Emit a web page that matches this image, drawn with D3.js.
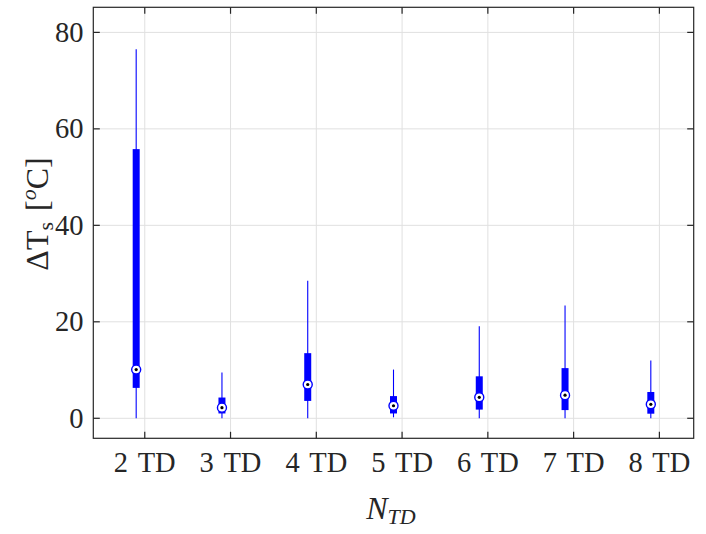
<!DOCTYPE html>
<html>
<head>
<meta charset="utf-8">
<script src="https://cdn.jsdelivr.net/npm/d3@7"></script>
<style>
  html, body { margin: 0; padding: 0; background: #fff; }
  svg { display: block; }
  text { font-family: "Liberation Serif", "DejaVu Serif", serif; fill: #262626; }
</style>
</head>
<body>
<svg id="chart" width="706" height="534"></svg>
<script>
// Temperature-spread box summaries per number of TDs
const categories = ["2 TD", "3 TD", "4 TD", "5 TD", "6 TD", "7 TD", "8 TD"];
const whiskerLow  = [0.0, 0.0, 0.0, 0.2, 0.0, 0.0, 0.0];
const boxLow      = [6.3, 1.0, 3.6, 1.0, 1.8, 1.7, 0.95];
const medians     = [10.1, 2.2, 7.0, 2.6, 4.35, 4.8, 2.9];
const boxHigh     = [55.8, 4.3, 13.5, 4.6, 8.7, 10.4, 5.45];
const whiskerHigh = [76.5, 9.5, 28.5, 10.1, 19.1, 23.4, 12.0];
const yTicks = [0, 20, 40, 60, 80];

const svg = d3.select("#chart");
const plotL = 93.3, plotR = 693.7, plotT = 7.3, plotB = 438.3;

const x = d3.scaleLinear().domain([0.4, 7.4]).range([plotL, plotR]);
const y = d3.scaleLinear().domain([-4.15, 85.2]).range([plotB, plotT]);
const xTicks = categories.map((_, i) => i + 1);
const boxOffset = -0.1;   // boxes sit slightly left of their tick
const axisColor = "#262626";

// grid
const grid = svg.append("g");
grid.selectAll("line.gx").data(xTicks).join("line")
  .attr("x1", d => x(d)).attr("x2", d => x(d))
  .attr("y1", plotT).attr("y2", plotB)
  .attr("stroke", "#e0e0e0").attr("stroke-width", 1);
grid.selectAll("line.gy").data(yTicks).join("line")
  .attr("x1", plotL).attr("x2", plotR)
  .attr("y1", d => y(d)).attr("y2", d => y(d))
  .attr("stroke", "#e0e0e0").attr("stroke-width", 1);

// boxes
const data = categories.map((c, i) => ({
  pos: i + 1 + boxOffset,
  lo: whiskerLow[i], q1: boxLow[i], med: medians[i], q3: boxHigh[i], hi: whiskerHigh[i]
}));
const boxes = svg.append("g");
boxes.selectAll("line.w").data(data).join("line")
  .attr("x1", d => x(d.pos)).attr("x2", d => x(d.pos))
  .attr("y1", d => y(d.lo)).attr("y2", d => y(d.hi))
  .attr("stroke", "#0000ff").attr("stroke-width", 1.1);
boxes.selectAll("rect").data(data).join("rect")
  .attr("x", d => x(d.pos) - 3.5).attr("width", 7)
  .attr("y", d => y(d.q3)).attr("height", d => y(d.q1) - y(d.q3))
  .attr("fill", "#0000ff");
boxes.selectAll("circle.m").data(data).join("circle")
  .attr("cx", d => x(d.pos)).attr("cy", d => y(d.med)).attr("r", 4.5)
  .attr("fill", "#fff").attr("stroke", "#0000ff").attr("stroke-width", 1.4);
boxes.selectAll("circle.d").data(data).join("circle")
  .attr("cx", d => x(d.pos)).attr("cy", d => y(d.med)).attr("r", 1.6)
  .attr("fill", "#000");

// axes box
svg.append("rect")
  .attr("x", plotL).attr("y", plotT).attr("width", plotR - plotL).attr("height", plotB - plotT)
  .attr("fill", "none").attr("stroke", axisColor).attr("stroke-width", 1.2);

const tickLen = 6.5;
const axG = svg.append("g").attr("stroke", axisColor).attr("stroke-width", 1.2);
xTicks.forEach(t => {
  axG.append("line").attr("x1", x(t)).attr("x2", x(t)).attr("y1", plotB).attr("y2", plotB - tickLen);
  axG.append("line").attr("x1", x(t)).attr("x2", x(t)).attr("y1", plotT).attr("y2", plotT + tickLen);
});
yTicks.forEach(t => {
  axG.append("line").attr("x1", plotL).attr("x2", plotL + tickLen).attr("y1", y(t)).attr("y2", y(t));
  axG.append("line").attr("x1", plotR).attr("x2", plotR - tickLen).attr("y1", y(t)).attr("y2", y(t));
});

// tick labels
svg.selectAll("text.xt").data(xTicks).join("text")
  .attr("x", d => x(d)).attr("y", 472)
  .attr("text-anchor", "middle").attr("font-size", 28.5).attr("word-spacing", 3)
  .text((d, i) => categories[i]);
svg.selectAll("text.yt").data(yTicks).join("text")
  .attr("x", 83.5).attr("y", d => y(d) + 9.5)
  .attr("text-anchor", "end").attr("font-size", 28.5)
  .text(d => d);

// x label: N_TD
const xl = svg.append("text").attr("x", 391).attr("y", 519)
  .attr("text-anchor", "middle").attr("font-size", 32).attr("font-style", "italic");
xl.append("tspan").text("N");
xl.append("tspan").attr("font-size", 22).attr("dy", 5).text("TD");

// y label: ΔT_s [°C]
const yl = svg.append("text")
  .attr("transform", "translate(48,214) rotate(-90)")
  .attr("text-anchor", "middle").attr("font-size", 32).attr("word-spacing", 3);
yl.append("tspan").text("ΔT");
yl.append("tspan").attr("font-size", 22).attr("dy", 5).text("s");
yl.append("tspan").attr("dy", -5).text(" [");
yl.append("tspan").attr("font-size", 22).attr("font-style", "italic").attr("dy", -12).text("o");
yl.append("tspan").attr("dy", 12).text("C]");
</script>
</body>
</html>
